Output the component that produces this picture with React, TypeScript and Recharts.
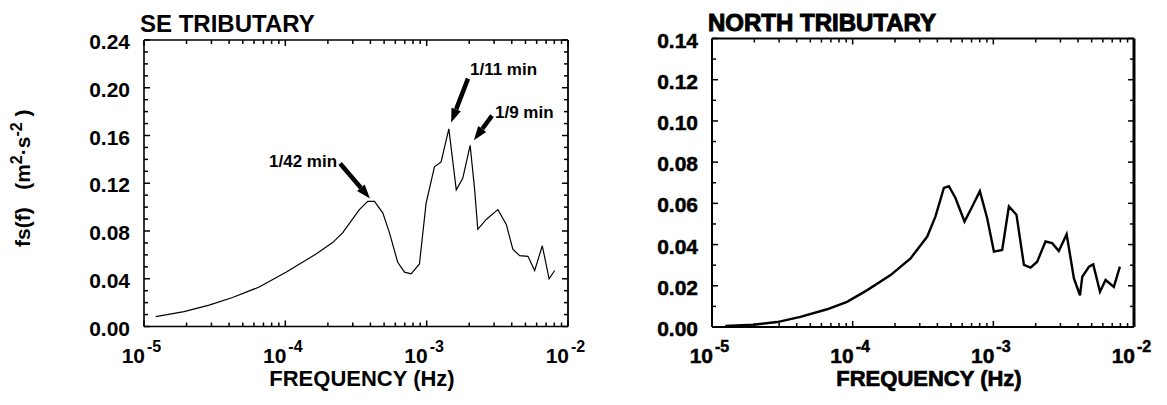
import React from 'react'
import { LineChart, Line, XAxis, YAxis, ReferenceLine, Label } from 'recharts'

// SE tributary spectrum (frequency in Hz, fs(f) in m2/s2)
const seFreq = [
  1.21e-5, 1.92e-5, 2.89e-5, 4.23e-5, 6.53e-5, 1.01e-4, 1.65e-4, 2.16e-4, 2.55e-4, 3.34e-4,
  3.83e-4, 4.27e-4, 4.89e-4, 5.45e-4, 6.24e-4, 6.97e-4, 7.76e-4, 8.89e-4, 9.91e-4, 1.135e-3,
  1.265e-3, 1.435e-3, 1.62e-3, 1.8e-3, 2.03e-3, 2.18e-3, 2.3e-3, 2.64e-3, 3.19e-3, 3.66e-3,
  4.07e-3, 4.55e-3, 5.21e-3, 5.81e-3, 6.58e-3, 7.35e-3, 8.05e-3,
]
const seValue = [
  0.0083, 0.0124, 0.0179, 0.0243, 0.0331, 0.0455, 0.0607, 0.0703, 0.0786, 0.0979,
  0.1048, 0.1048, 0.0952, 0.0786, 0.0538, 0.0455, 0.0441, 0.0524, 0.1034, 0.1338,
  0.1379, 0.1655, 0.1145, 0.1241, 0.1517, 0.1159, 0.0814, 0.0897, 0.0979, 0.0855,
  0.0648, 0.0593, 0.0588, 0.0469, 0.0676, 0.04, 0.0469,
]

// North tributary spectrum
const northFreq = [
  1.245e-5, 1.98e-5, 2.9e-5, 4.25e-5, 6.58e-5, 9.12e-5, 1.27e-4, 1.86e-4, 2.58e-4, 3.39e-4,
  3.88e-4, 4.45e-4, 4.83e-4, 5.38e-4, 6.24e-4, 7.08e-4, 8.02e-4, 9.04e-4, 1.01e-3, 1.156e-3,
  1.29e-3, 1.46e-3, 1.65e-3, 1.84e-3, 2.05e-3, 2.35e-3, 2.62e-3, 2.92e-3, 3.32e-3, 3.74e-3,
  4.13e-3, 4.29e-3, 4.79e-3, 5.13e-3, 5.73e-3, 6.28e-3, 7.19e-3, 7.94e-3,
]
const northValue = [
  0.0005, 0.0011, 0.0024, 0.0049, 0.0086, 0.0122, 0.0179, 0.0252, 0.0333, 0.0439,
  0.0537, 0.0675, 0.0683, 0.0626, 0.0512, 0.0585, 0.0659, 0.0528, 0.0366, 0.0374,
  0.0585, 0.0545, 0.0301, 0.0288, 0.0317, 0.0415, 0.0407, 0.0369, 0.045, 0.0236,
  0.0154, 0.0244, 0.0293, 0.0304, 0.0171, 0.0228, 0.0195, 0.0293,
]

const xTicks = [
  1e-5, 2e-5, 3e-5, 4e-5, 5e-5, 6e-5, 7e-5, 8e-5, 9e-5,
  1e-4, 2e-4, 3e-4, 4e-4, 5e-4, 6e-4, 7e-4, 8e-4, 9e-4,
  1e-3, 2e-3, 3e-3, 4e-3, 5e-3, 6e-3, 7e-3, 8e-3, 9e-3, 1e-2,
]
const xMajor = [1e-5, 1e-4, 1e-3, 1e-2]

const seYTicks = [
  0, 0.01, 0.02, 0.03, 0.04, 0.05, 0.06, 0.07, 0.08, 0.09, 0.1, 0.11, 0.12,
  0.13, 0.14, 0.15, 0.16, 0.17, 0.18, 0.19, 0.2, 0.21, 0.22, 0.23, 0.24,
]
const seYLabels = [0, 0.04, 0.08, 0.12, 0.16, 0.2, 0.24]
const northYTicks = [0, 0.01, 0.02, 0.03, 0.04, 0.05, 0.06, 0.07, 0.08, 0.09, 0.1, 0.11, 0.12, 0.13, 0.14]
const northYLabels = [0, 0.02, 0.04, 0.06, 0.08, 0.1, 0.12, 0.14]

// annotations on the SE panel: arrow tail -> tip, in data units
const seNotes = ['1/42 min', '1/11 min', '1/9 min']
const seNoteTailFreq = [2.44e-4, 1.96e-3, 2.9e-3]
const seNoteTailValue = [0.1366, 0.2076, 0.1767]
const seNoteTipFreq = [3.97e-4, 1.49e-3, 2.16e-3]
const seNoteTipValue = [0.1073, 0.1709, 0.156]

const noteLayout = [
  { anchor: 'end', dx: -3, dy: 4 },
  { anchor: 'start', dx: 2, dy: -4 },
  { anchor: 'start', dx: 3, dy: 2 },
]

const FONT = '"Liberation Sans", Arial, Helvetica, sans-serif'

const seData = seFreq.map((f, i) => ({ f, v: seValue[i] }))
const northData = northFreq.map((f, i) => ({ f, v: northValue[i] }))

const near = (list: number[], v: number) => list.some((m) => Math.abs(m - v) <= Math.abs(m) * 1e-6 + 1e-9)

const makeXTick = (side: 'top' | 'bottom', heavy: boolean) => (props: any) => {
  const { x, y, payload } = props
  const v = payload.value
  const major = near(xMajor, v)
  const len = major ? 6 : 4
  const dir = side === 'bottom' ? -1 : 1
  const exp = Math.round(Math.log10(v))
  return (
    <g>
      <line x1={x} y1={y} x2={x} y2={y + dir * len} stroke="#000" strokeWidth={1.5} />
      {side === 'bottom' && major && (
        <g fontFamily={FONT} fontWeight={700} fill="#000" stroke={heavy ? '#000' : 'none'} strokeWidth={0.5}>
          <text x={x + 1} y={y + 36} fontSize={21} textAnchor="end">10</text>
          <text x={x + 3} y={y + 25} fontSize={16} textAnchor="start">{'-' + Math.abs(exp)}</text>
        </g>
      )}
    </g>
  )
}

const makeYTick = (side: 'left' | 'right', labels: number[], heavy: boolean) => (props: any) => {
  const { x, y, payload } = props
  const v = payload.value
  const labelled = near(labels, v)
  const len = labelled ? 6 : 4
  const dir = side === 'left' ? 1 : -1
  return (
    <g>
      <line x1={x} y1={y} x2={x + dir * len} y2={y} stroke="#000" strokeWidth={1.5} />
      {side === 'left' && labelled && (
        <text
          x={x - 14}
          y={y + 9}
          fontFamily={FONT}
          fontWeight={700}
          fontSize={21}
          textAnchor="end"
          fill="#000"
          stroke={heavy ? '#000' : 'none'}
          strokeWidth={0.5}
        >
          {v.toFixed(2)}
        </text>
      )}
    </g>
  )
}

const arrowShape = (text: string, anchor: string, dx: number, dy: number) => (p: any) => {
  const { x1, y1, x2, y2 } = p
  const ang = Math.atan2(y2 - y1, x2 - x1)
  const head = 14
  const half = 5
  const bx = x2 - head * Math.cos(ang)
  const by = y2 - head * Math.sin(ang)
  const px = -Math.sin(ang) * half
  const py = Math.cos(ang) * half
  return (
    <g>
      <line x1={x1} y1={y1} x2={bx} y2={by} stroke="#000" strokeWidth={4.5} />
      <polygon points={`${x2},${y2} ${bx + px},${by + py} ${bx - px},${by - py}`} fill="#000" />
      <text
        x={x1 + dx}
        y={y1 + dy}
        textAnchor={anchor as any}
        fontFamily={FONT}
        fontWeight={700}
        fontSize={17}
        fill="#000"
      >
        {text}
      </text>
    </g>
  )
}

interface PanelProps {
  data: { f: number; v: number }[]
  width: number
  margin: { top: number; right: number; bottom: number; left: number }
  yMax: number
  yTicks: number[]
  yLabels: number[]
  title: string
  heavy: boolean
  lineWidth: number
  frameWidth: number
  rightFrameWidth: number
  showYTitle: boolean
  children?: React.ReactNode
}

function Panel({
  data, width, margin, yMax, yTicks, yLabels, title, heavy, lineWidth, frameWidth, rightFrameWidth, showYTitle, children,
}: PanelProps) {
  const textStroke = heavy ? '#000' : 'none'
  return (
    <LineChart width={width} height={405} data={data} margin={margin}>
      <XAxis
        xAxisId="bottom"
        dataKey="f"
        type="number"
        scale="log"
        domain={[1e-5, 1e-2]}
        allowDataOverflow
        ticks={xTicks}
        interval={0}
        tickSize={0}
        tickMargin={0}
        tickLine={false}
        height={30}
        axisLine={{ stroke: '#000', strokeWidth: frameWidth }}
        tick={makeXTick('bottom', heavy)}
      >
        <Label
          content={(p: any) => {
            const vb = p.viewBox
            return (
              <text
                x={vb.x + vb.width / 2 + 6}
                y={vb.y + 59}
                textAnchor="middle"
                fontFamily={FONT}
                fontWeight={700}
                fontSize={22}
                fill="#000"
                stroke={textStroke}
                strokeWidth={0.7}
              >
                FREQUENCY (Hz)
              </text>
            )
          }}
        />
      </XAxis>
      <XAxis
        xAxisId="top"
        orientation="top"
        dataKey="f"
        type="number"
        scale="log"
        domain={[1e-5, 1e-2]}
        allowDataOverflow
        ticks={xTicks}
        interval={0}
        tickSize={0}
        tickMargin={0}
        tickLine={false}
        height={10}
        axisLine={{ stroke: '#000', strokeWidth: frameWidth }}
        tick={makeXTick('top', heavy)}
      >
        <Label
          content={(p: any) => {
            const vb = p.viewBox
            return (
              <text
                x={vb.x - 4}
                y={vb.y + 2}
                textAnchor="start"
                fontFamily={FONT}
                fontWeight={700}
                fontSize={24}
                fill="#000"
                stroke={textStroke}
                strokeWidth={1}
              >
                {title}
              </text>
            )
          }}
        />
      </XAxis>
      <YAxis
        yAxisId="left"
        type="number"
        domain={[0, yMax]}
        allowDataOverflow
        ticks={yTicks}
        interval={0}
        tickSize={0}
        tickMargin={0}
        tickLine={false}
        width={60}
        axisLine={{ stroke: '#000', strokeWidth: frameWidth }}
        tick={makeYTick('left', yLabels, heavy)}
      >
        {showYTitle && (
          <Label
            content={(p: any) => {
              const vb = p.viewBox
              const cx = vb.x - 54
              const cy = vb.y + vb.height / 2 - 5
              return (
                <text
                  transform={`translate(${cx},${cy}) rotate(-90)`}
                  textAnchor="middle"
                  fontFamily={FONT}
                  fontWeight={700}
                  fontSize={21}
                  fill="#000"
                  style={{ whiteSpace: 'pre' }}
                >
                  {'fs(f)   (m'}
                  <tspan dy={-8} fontSize={16}>2</tspan>
                  <tspan dy={8}>·s</tspan>
                  <tspan dy={-8} fontSize={16}>-2</tspan>
                  <tspan dy={8}>{' )'}</tspan>
                </text>
              )
            }}
          />
        )}
      </YAxis>
      <YAxis
        yAxisId="right"
        orientation="right"
        type="number"
        domain={[0, yMax]}
        allowDataOverflow
        ticks={yTicks}
        interval={0}
        tickSize={0}
        tickMargin={0}
        tickLine={false}
        width={10}
        axisLine={{ stroke: '#000', strokeWidth: rightFrameWidth }}
        tick={makeYTick('right', yLabels, heavy)}
      />
      <Line
        xAxisId="top"
        yAxisId="right"
        dataKey="v"
        stroke="none"
        dot={false}
        activeDot={false}
        isAnimationActive={false}
      />
      <Line
        xAxisId="bottom"
        yAxisId="left"
        type="linear"
        dataKey="v"
        stroke="#000"
        strokeWidth={lineWidth}
        strokeLinejoin="miter"
        dot={false}
        activeDot={false}
        isAnimationActive={false}
      />
      {children}
    </LineChart>
  )
}

export default function App() {
  return (
    <div style={{ position: 'absolute', left: 0, top: 0, width: 1167, height: 405, background: '#fff', overflow: 'hidden' }}>
      <div style={{ position: 'absolute', left: 0, top: 0 }}>
        <Panel
          data={seData}
          width={600}
          margin={{ top: 30, right: 22, bottom: 48.5, left: 84 }}
          yMax={0.24}
          yTicks={seYTicks}
          yLabels={seYLabels}
          title="SE TRIBUTARY"
          heavy={false}
          lineWidth={1.2}
          frameWidth={1.6}
          rightFrameWidth={1.8}
          showYTitle
        >
          {seNotes.map((note, i) => (
            <ReferenceLine
              key={note}
              xAxisId="bottom"
              yAxisId="left"
              segment={[
                { x: seNoteTailFreq[i], y: seNoteTailValue[i] },
                { x: seNoteTipFreq[i], y: seNoteTipValue[i] },
              ]}
              shape={arrowShape(note, noteLayout[i].anchor, noteLayout[i].dx, noteLayout[i].dy)}
            />
          ))}
        </Panel>
      </div>
      <div style={{ position: 'absolute', left: 580, top: 0 }}>
        <Panel
          data={northData}
          width={587}
          margin={{ top: 28.5, right: 23, bottom: 48, left: 72 }}
          yMax={0.14}
          yTicks={northYTicks}
          yLabels={northYLabels}
          title="NORTH TRIBUTARY"
          heavy
          lineWidth={2.4}
          frameWidth={2}
          rightFrameWidth={3}
          showYTitle={false}
        />
      </div>
    </div>
  )
}
